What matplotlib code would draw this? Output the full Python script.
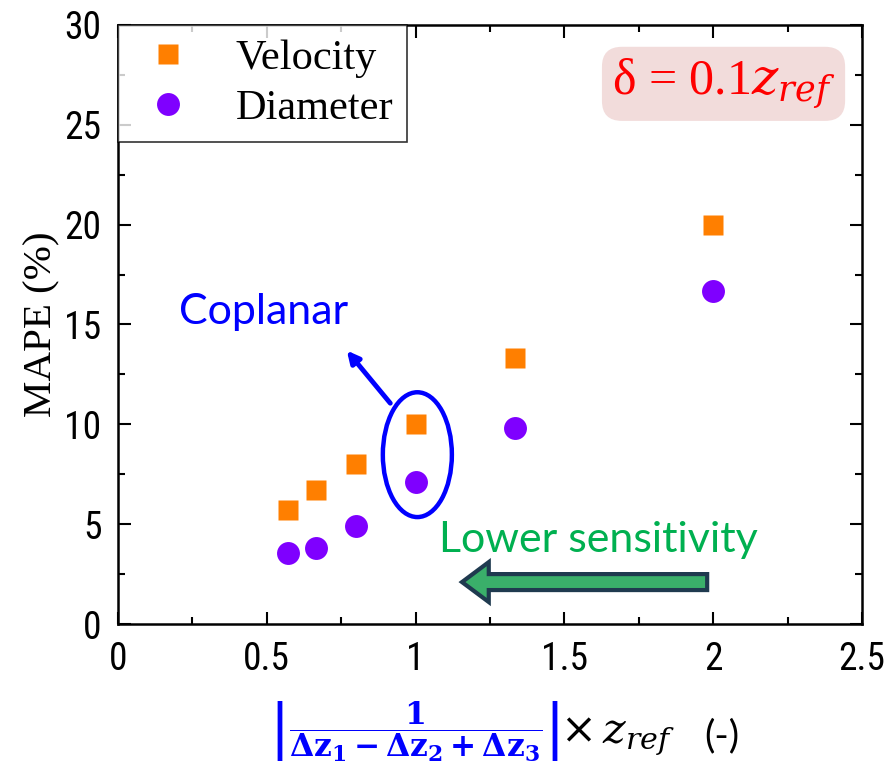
import matplotlib.pyplot as plt
from matplotlib.patches import Ellipse, FancyArrow
from matplotlib.ticker import MultipleLocator

# data: normalised sensitivity vs. MAPE
x_vals = [4/7, 2/3, 4/5, 1.0, 4/3, 2.0]
velocity_mape = [5.7, 6.7, 8.0, 10.0, 13.3, 20.0]
diameter_mape = [3.55, 3.8, 4.9, 7.1, 9.8, 16.7]

tick_font = 'Roboto Condensed'
serif_font = 'Liberation Serif'
label_font = 'Lato'

plt.rcParams['mathtext.fontset'] = 'dejavuserif'

fig = plt.figure(figsize=(8.84, 7.72), dpi=100)
ax = fig.add_axes([0.1335, 0.1917, 0.8415, 0.776])

ax.plot(x_vals, velocity_mape, 's', color='#ff7f00', ms=14.5, mec='none', label='Velocity')
ax.plot(x_vals, diameter_mape, 'o', color='#7f00ff', ms=16.5, mec='none', label='Diameter')

ax.set_xlim(0, 2.5)
ax.set_ylim(0, 30)
ax.xaxis.set_major_locator(MultipleLocator(0.5))
ax.xaxis.set_minor_locator(MultipleLocator(0.25))
ax.yaxis.set_major_locator(MultipleLocator(5))
ax.yaxis.set_minor_locator(MultipleLocator(2.5))
ax.set_xticks([0, 0.5, 1, 1.5, 2, 2.5])
ax.set_xticklabels(['0', '0.5', '1', '1.5', '2', '2.5'])
ax.tick_params(which='both', direction='in', top=True, right=True, width=1.5)
ax.tick_params(which='major', length=9, pad=12, labelsize=27)
ax.tick_params(which='minor', length=5)
for lab in ax.get_xticklabels() + ax.get_yticklabels():
    lab.set_fontfamily(tick_font)
for s in ax.spines.values():
    s.set_linewidth(1.8)

ax.set_ylabel('MAPE (%)', fontsize=29.5, fontfamily=serif_font, labelpad=3)

leg = ax.legend(loc='upper left', borderaxespad=0, fancybox=False, edgecolor='black',
                prop={'family': serif_font, 'size': 30.5}, handletextpad=0.75,
                borderpad=0.33, labelspacing=0.28, handlelength=1.7, markerscale=1.0)
leg.get_frame().set_linewidth(1.2)

# delta box
ax.text(2.41, 27.05, 'δ = 0.1$z_{ref}$', color='red', fontsize=36, fontfamily=serif_font,
        ha='right', va='center',
        bbox=dict(boxstyle='round,pad=0.2,rounding_size=0.4', fc='#f2dcdb', ec='none'))

# coplanar annotation
ax.add_patch(Ellipse((1.006, 8.48), 0.232, 6.25, fill=False, ec='blue', lw=3.2))
ax.annotate('', xy=(0.763, 13.8), xytext=(0.921, 10.95),
            arrowprops=dict(arrowstyle='-|>,head_length=0.7,head_width=0.35', color='blue', lw=3.5))
ax.text(0.49, 15.6, 'Coplanar', color='blue', fontsize=31, fontfamily=label_font,
        ha='center', va='center')

# lower sensitivity arrow
ax.text(1.613, 4.2, 'Lower sensitivity', color='#00b050', fontsize=31,
        fontfamily=label_font, ha='center', va='center')
ax.add_patch(FancyArrow(1.98, 2.1, -(1.98 - 1.156), 0, width=0.8, head_width=2.0,
                        head_length=0.09, length_includes_head=True,
                        fc='#3aaf6a', ec='#1f3a4f', lw=3))

# x label in two parts
fig.text(0.468, 0.052, r'$\left|\dfrac{\mathbf{1}}{\mathbf{\Delta z_1 - \Delta z_2 + \Delta z_3}}\right|$',
         color='blue', fontsize=22.5, ha='center', va='center')
fig.text(0.633, 0.045, r'$\times\, z_{ref}$', color='black', fontsize=31, ha='left', va='center')
fig.text(0.797, 0.046, '(-)', color='black', fontsize=28, fontfamily=label_font, ha='left', va='center')

fig.savefig('out.png', dpi=100)
